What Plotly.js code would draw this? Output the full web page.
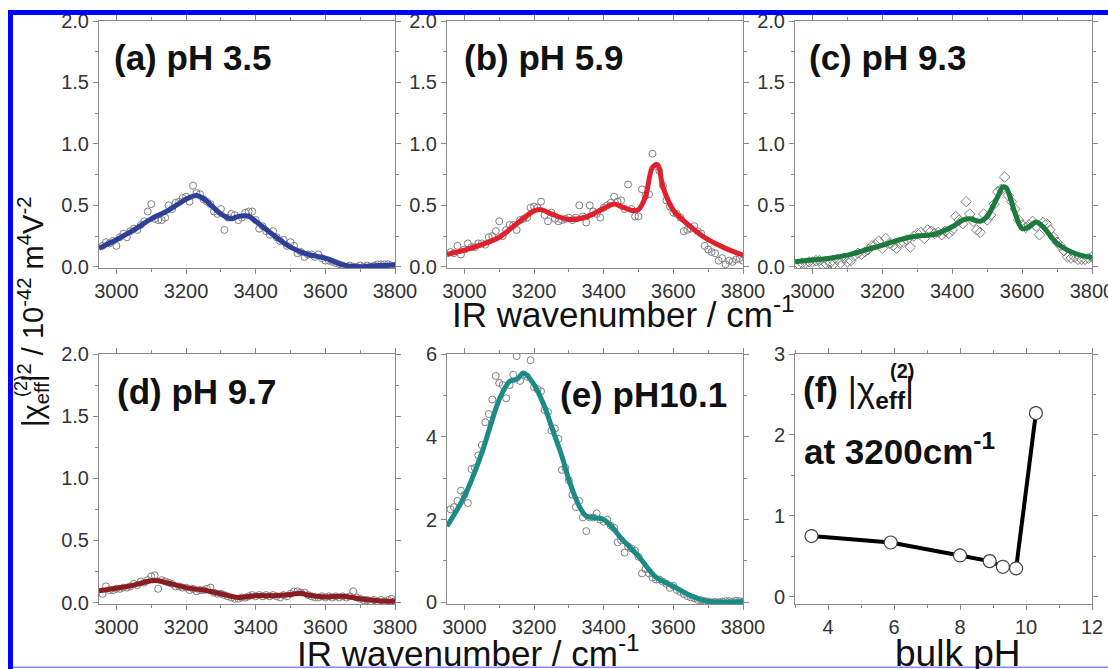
<!DOCTYPE html>
<html>
<head>
<meta charset="utf-8">
<script src="https://cdn.plot.ly/plotly-3.0.1.min.js"></script>
<style>html,body{margin:0;padding:0;background:#fff;} #chart{width:1108px;height:669px;}</style>
</head>
<body>
<div id="chart"></div>
<script>
// ---------- DATA ----------
var wn = [2960,2970,2980,2990,3000,3010,3020,3030,3040,3050,3060,3070,3080,3090,3100,3110,3120,3130,3140,3150,
          3160,3170,3180,3190,3200,3210,3220,3230,3240,3250,3260,3270,3280,3290,3300,3310,3320,3330,3340,3350,
          3360,3370,3380,3390,3400,3410,3420,3430,3440,3450,3460,3470,3480,3490,3500,3510,3520,3530,3540,3550,
          3560,3570,3580,3590,3600,3610,3620,3630,3640,3650,3660,3670,3680,3690,3700,3710,3720,3730,3740,3750,
          3760,3770,3780,3790,3800];

var ptsA = [0.17,0.20,0.19,0.21,0.17,0.24,0.27,0.24,0.29,0.31,0.30,0.34,0.37,0.45,0.51,0.39,0.38,0.38,0.40,0.50,
            0.47,0.52,0.53,0.56,0.57,0.53,0.66,0.60,0.59,0.55,0.53,0.51,0.45,0.43,0.47,0.30,0.40,0.43,0.42,0.38,
            0.40,0.44,0.45,0.45,0.38,0.31,0.33,0.29,0.26,0.29,0.24,0.21,0.22,0.17,0.20,0.17,0.11,0.12,0.08,0.10,
            0.10,0.08,0.10,0.07,0.05,0.05,0.04,0.03,0.02,0.01,0.00,0.01,0.00,0.00,0.01,0.00,0.01,0.00,0.01,0.02,
            0.02,0.02,0.02,0.01,0.01];
var ptsB = [0.12,0.11,0.17,0.10,0.14,0.19,0.16,0.16,0.19,0.19,0.18,0.24,0.25,0.29,0.37,0.25,0.30,0.34,0.34,0.30,
            0.38,0.39,0.40,0.48,0.49,0.48,0.53,0.42,0.37,0.44,0.39,0.37,0.38,0.39,0.40,0.38,0.40,0.50,0.41,0.36,
            0.50,0.45,0.43,0.40,0.48,0.50,0.52,0.57,0.53,0.54,0.47,0.67,0.47,0.41,0.41,0.63,0.58,0.59,0.92,0.82,
            0.78,0.66,0.54,0.49,0.44,0.43,0.40,0.29,0.30,0.31,0.33,0.29,0.27,0.17,0.14,0.12,0.11,0.05,0.07,0.02,
            0.05,0.04,0.06,0.07,0.05];
var ptsC = [0.02,0.03,0.03,0.04,0.04,0.05,0.05,0.01,0.02,0.03,0.02,0.06,0.03,0.07,0.04,0.05,0.09,0.11,0.10,0.12,
            0.14,0.17,0.18,0.21,0.15,0.23,0.19,0.17,0.15,0.19,0.20,0.22,0.16,0.25,0.27,0.28,0.23,0.30,0.29,0.27,
            0.28,0.26,0.29,0.27,0.30,0.41,0.38,0.35,0.53,0.43,0.37,0.30,0.28,0.43,0.38,0.42,0.51,0.61,0.63,0.73,
            0.58,0.53,0.47,0.38,0.34,0.32,0.34,0.37,0.33,0.26,0.36,0.35,0.30,0.24,0.20,0.17,0.13,0.08,0.07,0.08,
            0.06,0.06,0.06,0.07,0.08];
var ptsD = [0.07,0.13,0.10,0.10,0.11,0.11,0.12,0.12,0.13,0.15,0.14,0.17,0.16,0.18,0.21,0.22,0.11,0.18,0.17,0.16,
            0.15,0.13,0.13,0.12,0.12,0.10,0.11,0.09,0.10,0.10,0.11,0.12,0.08,0.07,0.07,0.06,0.05,0.04,0.03,0.03,
            0.04,0.04,0.05,0.06,0.05,0.06,0.05,0.06,0.05,0.06,0.05,0.04,0.06,0.05,0.07,0.09,0.09,0.08,0.08,0.06,
            0.05,0.04,0.04,0.05,0.04,0.05,0.04,0.05,0.04,0.05,0.04,0.05,0.09,0.04,0.03,0.02,0.02,0.01,0.02,0.01,
            0.02,0.01,0.02,0.03,0.01];
var ptsE = [2.25,2.30,2.45,2.70,2.60,2.40,3.22,3.25,3.55,3.80,4.35,4.55,4.90,5.47,5.30,5.25,4.93,5.25,5.50,5.95,
            5.35,5.50,5.45,5.85,5.20,5.15,5.10,4.65,4.60,4.15,4.20,3.95,3.20,3.25,2.95,2.60,2.30,2.45,2.05,1.72,
            2.05,2.05,2.15,2.00,1.95,2.00,1.85,1.80,1.45,1.50,1.20,1.35,1.30,1.25,1.10,0.70,0.80,0.70,0.60,0.55,
            0.55,0.50,0.45,0.35,0.40,0.30,0.25,0.20,0.15,0.12,0.10,0.06,0.05,0.03,0.02,0.00,0.01,0.00,0.02,0.03,
            0.03,0.02,0.04,0.03,0.02];

var fitA_x = [2950,3000,3050,3100,3150,3200,3230,3250,3300,3330,3350,3380,3400,3450,3500,3550,3600,3650,3700,3750,3800];
var fitA_y = [0.15,0.22,0.30,0.39,0.46,0.55,0.58,0.555,0.43,0.39,0.41,0.41,0.37,0.26,0.16,0.10,0.07,0.015,0.0,0.01,0.015];
var fitB_x = [2950,3000,3050,3100,3150,3200,3220,3250,3300,3350,3400,3430,3450,3480,3500,3520,3540,3555,3570,3600,3650,3700,3750,3800];
var fitB_y = [0.10,0.135,0.18,0.24,0.35,0.455,0.465,0.43,0.385,0.405,0.475,0.51,0.49,0.46,0.465,0.57,0.81,0.83,0.65,0.46,0.325,0.22,0.15,0.095];
var fitC_x = [2950,3000,3050,3100,3150,3200,3250,3300,3350,3400,3430,3450,3480,3500,3530,3545,3555,3580,3600,3620,3640,3660,3700,3750,3800];
var fitC_y = [0.04,0.055,0.07,0.095,0.135,0.175,0.22,0.25,0.265,0.325,0.38,0.39,0.37,0.41,0.57,0.65,0.64,0.435,0.31,0.325,0.365,0.325,0.19,0.11,0.075];
var fitD_x = [2950,3000,3050,3100,3120,3150,3200,3250,3300,3350,3400,3450,3500,3530,3550,3600,3650,3700,3750,3800];
var fitD_y = [0.095,0.115,0.14,0.175,0.175,0.155,0.12,0.10,0.07,0.04,0.055,0.055,0.065,0.075,0.06,0.045,0.05,0.03,0.015,0.01];
var fitE_x = [2950,3000,3050,3080,3100,3130,3150,3170,3200,3230,3250,3280,3300,3330,3350,3380,3400,3430,3450,3500,3550,3600,3650,3700,3750,3800];
var fitE_y = [1.84,2.56,3.61,4.41,4.90,5.34,5.38,5.54,5.26,4.73,4.25,3.53,2.96,2.32,2.08,2.04,2.0,1.76,1.55,1.11,0.61,0.39,0.16,0.02,0.01,0.02];

var bulkPH = [3.5,5.9,8.0,8.9,9.3,9.7,10.3];
var chi3200 = [0.75,0.67,0.51,0.44,0.37,0.35,2.27];

var panelLabels = ['(a) pH 3.5','(b) pH 5.9','(c) pH 9.3','(d) pH 9.7','(e) pH10.1'];
var xTitle = 'IR wavenumber / cm<sup>-1</sup>';
var yTitle = '|χ<sub>eff</sub>|<sup>2</sup> / 10<sup>-42</sup> m<sup>4</sup>V<sup>-2</sup>';

// ---------- STYLE / LAYOUT ----------
var W = 1108, H = 669;
var FONT = 'Liberation Sans, Arial, Helvetica, sans-serif';
function px(x){ return x / W; }
function py(y){ return 1 - y / H; }
var cols = [[99,395],[447,743],[795,1092]];
var rowTop = [21,268], rowBot = [354,604];

var colors = {a:'#2d3f98', b:'#e0202c', c:'#1c7a3d', d:'#8b1c22', e:'#1b8b87'};
var ptColor = '#808080';

function fitTrace(x, y, c, ax){
  return {x:x, y:y, type:'scatter', mode:'lines', xaxis:'x'+ax, yaxis:'y'+ax,
          line:{color:c, width:5, shape:'spline', smoothing:0.9}, hoverinfo:'skip'};
}
function ptsTrace(y, ax, sym){
  return {x:wn, y:y, type:'scatter', mode:'markers', xaxis:'x'+ax, yaxis:'y'+ax,
          marker:{symbol:sym, size:sym==='diamond-open'?8:7, color:ptColor, line:{width:1, color:ptColor}}};
}

var data = [
  ptsTrace(ptsA,'', 'circle-open'), fitTrace(fitA_x, fitA_y, colors.a, ''),
  ptsTrace(ptsB,'2','circle-open'), fitTrace(fitB_x, fitB_y, colors.b, '2'),
  ptsTrace(ptsC,'3','diamond-open'), fitTrace(fitC_x, fitC_y, colors.c, '3'),
  ptsTrace(ptsD,'4','circle-open'), fitTrace(fitD_x, fitD_y, colors.d, '4'),
  ptsTrace(ptsE,'5','circle-open'), fitTrace(fitE_x, fitE_y, colors.e, '5'),
  {x:bulkPH, y:chi3200, type:'scatter', mode:'lines+markers', xaxis:'x6', yaxis:'y6',
   line:{color:'#000', width:4}, marker:{symbol:'circle', size:13, color:'#fff', line:{color:'#444', width:1.2}}}
];

function axisBase(){
  return {showline:true, linecolor:'#8a8a8a', linewidth:1, mirror:'allticks',
          ticks:'outside', ticklen:5, tickwidth:1, tickcolor:'#8a8a8a',
          showgrid:false, zeroline:false, fixedrange:true, ticklabeloverflow:'allow',
          tickfont:{family:FONT, size:20, color:'#333'}};
}
function xSpec(col, row, anchor){
  var a = axisBase();
  a.domain = [px(cols[col][0]), px(cols[col][1])];
  a.range = [2950, 3800]; a.tick0 = 3000; a.dtick = 200;
  a.minor = {ticks:'outside', ticklen:3, tickcolor:'#8a8a8a', dtick:100, tick0:3000, showgrid:false};
  a.anchor = anchor;
  return a;
}
function ySpec(row, rng, dtick, fmt, mdt, anchor){
  var a = axisBase();
  var r = row === 0 ? rowTop : rowBot;
  a.domain = [py(r[1]), py(r[0])];
  a.range = rng; a.dtick = dtick; a.tick0 = 0; if (fmt) a.tickformat = fmt;
  a.minor = {ticks:'outside', ticklen:3, tickcolor:'#8a8a8a', dtick:mdt, tick0:0, showgrid:false};
  a.anchor = anchor;
  return a;
}

var layout = {
  width:W, height:H, margin:{l:0,r:0,t:0,b:0}, showlegend:false,
  paper_bgcolor:'#fff', plot_bgcolor:'#fff',
  font:{family:FONT, color:'#111'},
  xaxis:  xSpec(0,0,'y'),  yaxis:  ySpec(0,[-0.01,2.0],0.5,'.1f',0.25,'x'),
  xaxis2: xSpec(1,0,'y2'), yaxis2: ySpec(0,[-0.01,2.0],0.5,'.1f',0.25,'x2'),
  xaxis3: xSpec(2,0,'y3'), yaxis3: ySpec(0,[-0.01,2.0],0.5,'.1f',0.25,'x3'),
  xaxis4: xSpec(0,1,'y4'), yaxis4: ySpec(1,[-0.012,2.0],0.5,'.1f',0.25,'x4'),
  xaxis5: xSpec(1,1,'y5'), yaxis5: ySpec(1,[-0.04,6],2,null,1,'x5'),
  yaxis6: ySpec(1,[-0.09,3],1,null,0.5,'x6')
};
var x6 = axisBase();
x6.domain = [px(cols[2][0]), px(cols[2][1])];
x6.range = [3, 12]; x6.tick0 = 4; x6.dtick = 2; x6.anchor = 'y6';
x6.minor = {ticks:'outside', ticklen:3, tickcolor:'#8a8a8a', dtick:1, tick0:3, showgrid:false};
layout.xaxis6 = x6;

var labelPos = [[112,58],[462,58],[807,58],[115,392],[558,394]];
var ann = [];
panelLabels.forEach(function(t,i){
  ann.push({text:'<b>'+t+'</b>', x:px(labelPos[i][0]), y:py(labelPos[i][1]), xref:'paper', yref:'paper',
            xanchor:'left', yanchor:'middle', showarrow:false, font:{family:FONT, size:35, color:'#111'}});
});
// panel (f) label
ann.push({text:'<b>(f)</b> |χ<sub><b>eff</b></sub>|', x:px(801), y:py(392), xref:'paper', yref:'paper',
          xanchor:'left', yanchor:'middle', showarrow:false, font:{family:FONT, size:35, color:'#111'}});
ann.push({text:'<b>(2)</b>', x:px(902), y:py(371), xref:'paper', yref:'paper',
          xanchor:'center', yanchor:'middle', showarrow:false, font:{family:FONT, size:20, color:'#111'}});
ann.push({text:'<b>at 3200cm<sup>-1</sup></b>', x:px(802), y:py(449), xref:'paper', yref:'paper',
          xanchor:'left', yanchor:'middle', showarrow:false, font:{family:FONT, size:35, color:'#111'}});
// axis titles
ann.push({text:xTitle, x:px(623), y:py(312), xref:'paper', yref:'paper', xanchor:'center', yanchor:'middle',
          showarrow:false, font:{family:FONT, size:35, color:'#111'}});
ann.push({text:xTitle, x:px(468), y:py(651), xref:'paper', yref:'paper', xanchor:'center', yanchor:'middle',
          showarrow:false, font:{family:FONT, size:35, color:'#111'}});
ann.push({text:'bulk pH', x:px(957), y:py(653), xref:'paper', yref:'paper', xanchor:'center', yanchor:'middle',
          showarrow:false, font:{family:FONT, size:37, color:'#111'}});
ann.push({text:yTitle, x:px(33), y:py(312), xref:'paper', yref:'paper', xanchor:'center', yanchor:'middle',
          textangle:-90, showarrow:false, font:{family:FONT, size:29, color:'#111'}});
ann.push({text:'(2)', x:px(21), y:py(386), xref:'paper', yref:'paper', xanchor:'center', yanchor:'middle',
          textangle:-90, showarrow:false, font:{family:FONT, size:18, color:'#111'}});
layout.annotations = ann;

// blue frame
layout.shapes = [
  {type:'rect', xref:'paper', yref:'paper', x0:px(8), x1:px(1108), y0:py(15), y1:py(10), fillcolor:'#0000ff', line:{width:0}},
  {type:'rect', xref:'paper', yref:'paper', x0:px(8), x1:px(13), y0:py(669), y1:py(10), fillcolor:'#0000ff', line:{width:0}},
  {type:'rect', xref:'paper', yref:'paper', x0:px(13), x1:px(1108), y0:py(668), y1:py(666.5), fillcolor:'#8a8aff', line:{width:0}}
];

Plotly.newPlot('chart', data, layout, {displayModeBar:false, staticPlot:true});
</script>
</body>
</html>
